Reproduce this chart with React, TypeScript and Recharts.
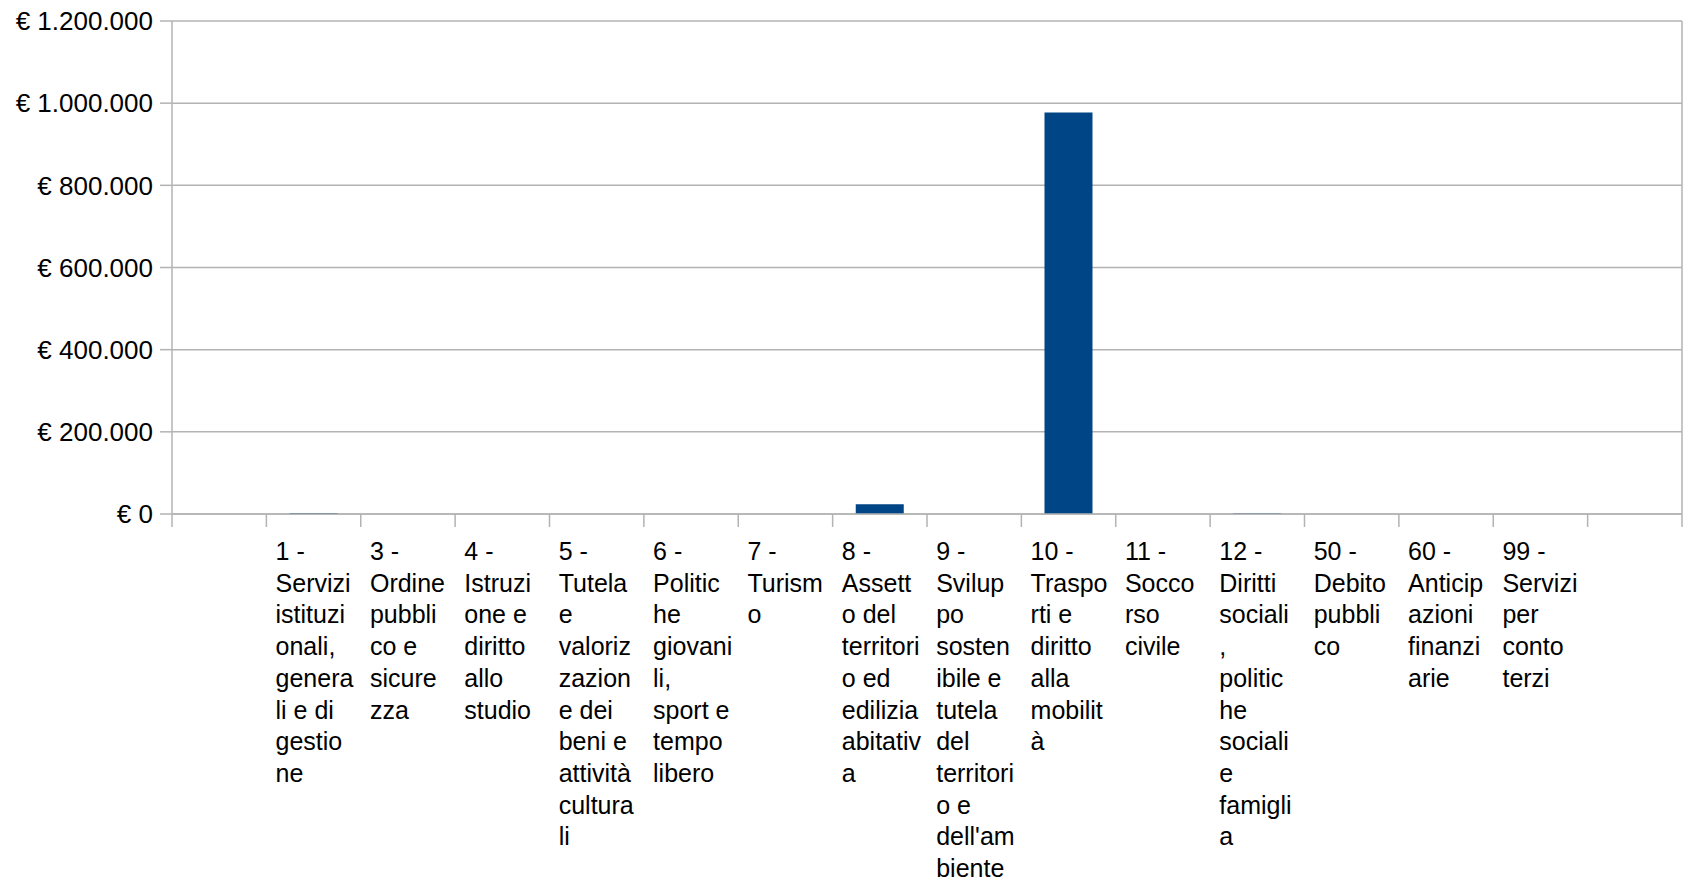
import React from 'react';
import { BarChart, Bar, XAxis, YAxis, CartesianGrid } from 'recharts';

// Missioni (labels wrapped as in the original picture)
const categories: string[] = [
    '',
    '1 -\nServizi\nistituzi\nonali,\ngenera\nli e di\ngestio\nne',
    '3 -\nOrdine\npubbli\nco e\nsicure\nzza',
    '4 -\nIstruzi\none e\ndiritto\nallo\nstudio',
    '5 -\nTutela\ne\nvaloriz\nzazion\ne dei\nbeni e\nattività\ncultura\nli',
    '6 -\nPolitic\nhe\ngiovani\nli,\nsport e\ntempo\nlibero',
    '7 -\nTurism\no',
    '8 -\nAssett\no del\nterritori\no ed\nedilizia\nabitativ\na',
    '9 -\nSvilup\npo\nsosten\nibile e\ntutela\ndel\nterritori\no e\ndell\'am\nbiente',
    '10 -\nTraspo\nrti e\ndiritto\nalla\nmobilit\nà',
    '11 -\nSocco\nrso\ncivile',
    '12 -\nDiritti\nsociali\n,\npolitic\nhe\nsociali\ne\nfamigli\na',
    '50 -\nDebito\npubbli\nco',
    '60 -\nAnticip\nazioni\nfinanzi\narie',
    '99 -\nServizi\nper\nconto\nterzi',
    '',
];

const values: (number | null)[] = [
    null, 2500, 0, 0, 0, 0, 0, 23500, 0, 977000, 0, 2000, 0, 0, 0, null,
];

const yTicks: number[] = [0, 200000, 400000, 600000, 800000, 1000000, 1200000];

const data = categories.map((c, i) => ({ name: c, value: values[i] }));

const WIDTH = 1684;
const HEIGHT = 883;
const Y_AXIS_W = 172;
const RIGHT_W = 2;
const SLOT = (WIDTH - Y_AXIS_W - RIGHT_W) / categories.length;
const GRID = '#b3b3b3';
const FONT = '"Liberation Sans", Arial, sans-serif';

const euro = (v: number) => '€ ' + String(v).replace(/\B(?=(\d{3})+(?!\d))/g, '.');

const CategoryTick = (props: any) => {
    const { x, y, payload, index } = props;
    const half = SLOT / 2;
    const lines = String(payload.value).split('\n');
    const tx = x - 38;
    return (
        <g>
            <line x1={x - half} x2={x - half} y1={y} y2={y + 13} stroke={GRID} strokeWidth={1.5} />
            {index === categories.length - 1 && (
                <line x1={x + half} x2={x + half} y1={y} y2={y + 13} stroke={GRID} strokeWidth={1.5} />
            )}
            <text x={tx} y={y + 46} fontSize={25} fill="#000" fontFamily={FONT}>
                {lines.map((l, i) => (
                    <tspan key={i} x={tx} dy={i === 0 ? 0 : 31.7}>{l}</tspan>
                ))}
            </text>
        </g>
    );
};

export default function App() {
    return (
        <div style={{ position: 'absolute', left: 0, top: 0, width: WIDTH, height: HEIGHT, background: '#fff' }}>
            <BarChart
                width={WIDTH}
                height={HEIGHT}
                data={data}
                margin={{ top: 21, right: 0, left: 0, bottom: 0 }}
                barCategoryGap="24.5%"
            >
                <CartesianGrid vertical={false} stroke={GRID} strokeWidth={1.5} />
                <XAxis
                    dataKey="name"
                    interval={0}
                    height={369}
                    tickSize={0}
                    tickMargin={0}
                    tickLine={false}
                    axisLine={{ stroke: GRID, strokeWidth: 1.5 }}
                    tick={<CategoryTick />}
                />
                <YAxis
                    width={Y_AXIS_W}
                    domain={[0, 1200000]}
                    ticks={yTicks}
                    interval={0}
                    tickFormatter={euro}
                    tickSize={12}
                    tickMargin={7}
                    tickLine={{ stroke: GRID, strokeWidth: 1.5 }}
                    axisLine={{ stroke: GRID, strokeWidth: 1.5 }}
                    tick={{ fontSize: 26, fill: '#000', fontFamily: FONT }}
                />
                <YAxis
                    yAxisId="frame"
                    orientation="right"
                    width={RIGHT_W}
                    tick={false}
                    tickLine={false}
                    axisLine={{ stroke: GRID, strokeWidth: 1.5 }}
                />
                <Bar dataKey="value" fill="#004586" isAnimationActive={false} />
            </BarChart>
        </div>
    );
}
